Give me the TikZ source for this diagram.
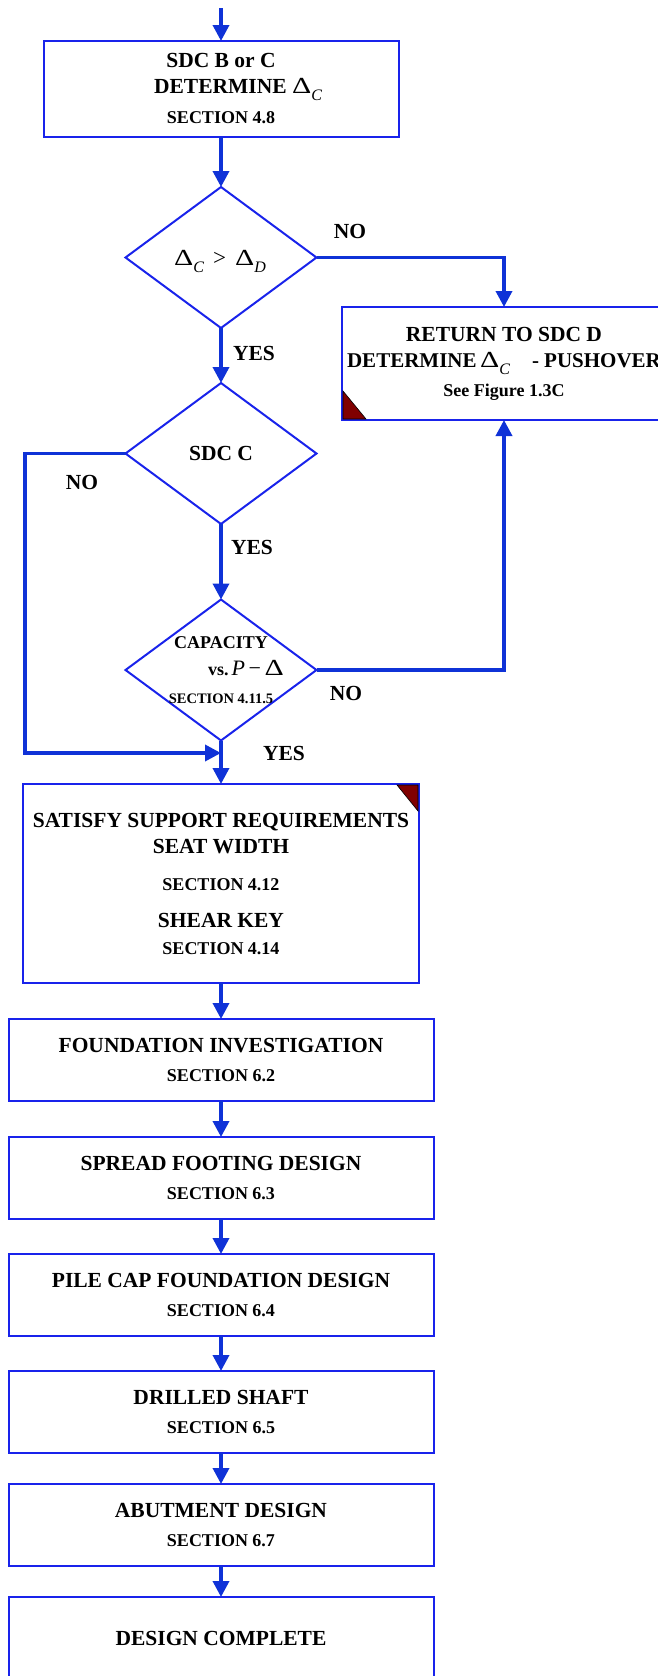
\documentclass[tikz,border=0pt]{standalone}
\usepackage{fontspec}
\usepackage{graphicx}
\setmainfont{Liberation Serif}
\usetikzlibrary{shapes.geometric,arrows.meta}

\definecolor{edgeblue}{RGB}{25,35,235}
\definecolor{flowblue}{RGB}{15,50,215}
\definecolor{cornerred}{RGB}{128,0,0}

% lowered italic subscript and the wide upright Delta used in the formulas
\newcommand{\lowsub}[1]{\raisebox{-7pt}{\fontsize{16}{16}\selectfont\mdseries\itshape #1}}
\newcommand{\dsym}{{\mdseries\fontsize{23}{23}\selectfont\scalebox{1.3}[1]{Δ}}}
\newcommand{\sect}[1]{{\fontsize{18}{18}\selectfont #1}}

\tikzset{
  box/.style={draw=edgeblue, line width=2pt, fill=white, outer sep=0pt,
    minimum width=425pt, minimum height=82pt, inner sep=0pt, align=center,
    font=\bfseries\fontsize{21.5}{26}\selectfont},
  decision/.style={draw=edgeblue, line width=2pt, diamond, outer sep=0pt,
    minimum width=191pt, minimum height=141pt, inner sep=0pt},
  flow/.style={draw=flowblue, line width=3.6pt,
    -{Triangle[length=16pt,width=16pt]}},
  tag/.style={font=\bfseries\fontsize{21.5}{24}\selectfont, inner sep=0pt},
  corner/.style={fill=cornerred, draw=black, line width=0.6pt},
}

\begin{document}
\begin{tikzpicture}[x=1pt,y=-1pt]
\useasboundingbox (0,0) rectangle (658,1676);
\clip (0,0) rectangle (658,1676);

% process boxes
\node[box, minimum width=355pt, minimum height=96pt] (b1) at (221,89)
  {SDC B or C\\ \hspace*{34pt}DETERMINE \dsym\lowsub{C}\\[4pt] \sect{SECTION 4.8}};
\node[box, minimum width=324pt, minimum height=113pt] (b2) at (504,363.5)
  {RETURN TO SDC D\\
   {\fontsize{21}{21}\selectfont DETERMINE\,\dsym\lowsub{C}\hspace{22pt}- PUSHOVER}\\[3pt]
   \sect{See Figure 1.3C}};
\node[box, minimum width=396pt, minimum height=199pt] (b3) at (221,883.5)
  {SATISFY SUPPORT REQUIREMENTS\\ SEAT WIDTH\\[11pt] \sect{SECTION 4.12}\\[11pt]
   SHEAR KEY\\[1pt] \sect{SECTION 4.14}};
\node[box] (b4) at (221,1060) {FOUNDATION INVESTIGATION\\[3pt] \sect{SECTION 6.2}};
\node[box] (b5) at (221,1178) {SPREAD FOOTING DESIGN\\[3pt] \sect{SECTION 6.3}};
\node[box] (b6) at (221,1295) {PILE CAP FOUNDATION DESIGN\\[3pt] \sect{SECTION 6.4}};
\node[box] (b7) at (221,1412) {DRILLED SHAFT\\[3pt] \sect{SECTION 6.5}};
\node[box] (b8) at (221,1525) {ABUTMENT DESIGN\\[3pt] \sect{SECTION 6.7}};
\node[box] (b9) at (221,1638) {DESIGN COMPLETE};

% decisions
\node[decision] (d1) at (221,257.5) {};
\node[decision] (d2) at (221,453.5) {};
\node[decision] (d3) at (221,670) {};

\node[anchor=base, inner sep=0pt] (cond) at (220,265)
  {\dsym\lowsub{C}\hspace{9pt}{\fontsize{23}{23}\selectfont >}\hspace{9pt}\dsym\lowsub{D}};
\node[tag] (sdcc) at (221,453) {SDC C};
\node[tag, font=\bfseries\fontsize{18}{18}\selectfont] (cap) at (221,643) {CAPACITY};
\node[tag, font=\bfseries\fontsize{18}{18}\selectfont] (pdelta) at (246,668)
  {vs.\,{\mdseries\fontsize{22}{22}\selectfont\textit{P}\,−\,}\dsym};
\node[tag, font=\bfseries\fontsize{14.5}{14.5}\selectfont] (capsec) at (221,699) {SECTION 4.11.5};

% corner marks
\fill[corner] ([shift={(1,-1)}]b2.south west) -- ++(0,-28) -- ++(23,28) -- cycle;
\fill[corner] ([shift={(-1,1)}]b3.north east) -- ++(-21,0) -- ++(21,26) -- cycle;

% connectors
\coordinate (start) at (221,8);
\coordinate (bend) at (25,753);
\coordinate (merge) at (221,753);
\draw[flow] (start) -- (b1.north);
\draw[flow] (b1.south) -- (d1.north);
\draw[flow] (d1.east) -| (b2.north);
\draw[flow] (d1.south) -- (d2.north);
\draw[flow] (d2.south) -- (d3.north);
\draw[flow] (d2.west) -| (bend) -- (merge);
\draw[flow] (d3.east) -| (b2.south);
\draw[flow] (d3.south) -- (b3.north);
\draw[flow] (b3.south) -- (b4.north);
\draw[flow] (b4.south) -- (b5.north);
\draw[flow] (b5.south) -- (b6.north);
\draw[flow] (b6.south) -- (b7.north);
\draw[flow] (b7.south) -- (b8.north);
\draw[flow] (b8.south) -- (b9.north);

% branch labels
\node[tag] (no1) at (350,231) {NO};
\node[tag] (yes1) at (254,353) {YES};
\node[tag] (no2) at (82,482) {NO};
\node[tag] (yes2) at (252,547) {YES};
\node[tag] (no3) at (346,693) {NO};
\node[tag] (yes3) at (284,753) {YES};
\end{tikzpicture}
\end{document}
